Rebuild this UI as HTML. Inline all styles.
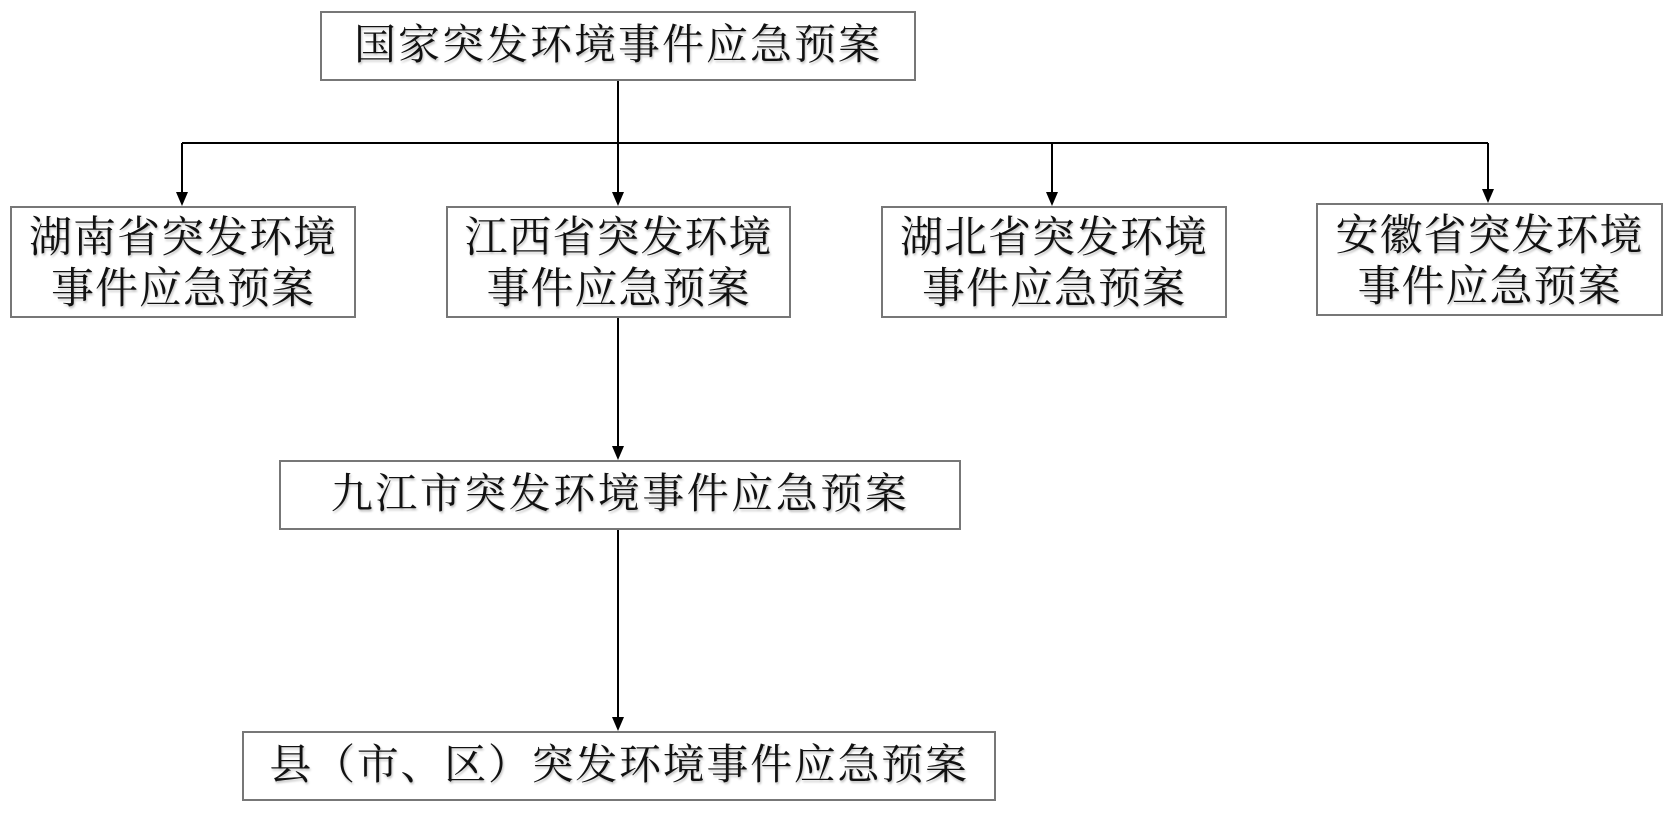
<!DOCTYPE html>
<html><head><meta charset="utf-8"><style>
body{margin:0;width:1675px;height:817px;background:#fff;position:relative;overflow:hidden;font-family:"Liberation Serif","Noto Serif CJK SC",serif;color:#111}
.b{position:absolute;border:2px solid #777;box-sizing:border-box;display:flex;align-items:center;justify-content:center;text-align:center;font-size:42px;line-height:48px;white-space:nowrap;text-shadow:1px 2px 2px rgba(0,0,0,.25)}
svg{position:absolute;left:0;top:0}
</style></head><body>
<svg width="1675" height="817">
<g stroke="#000" stroke-width="2" fill="none">
<line x1="618" y1="80" x2="618" y2="143"/>
<line x1="182" y1="143" x2="1488" y2="143"/>
</g>
<g fill="#000">
<rect x="181" y="143" width="2" height="50"/><path d="M176,192 L188,192 L182,206Z"/>
<rect x="617" y="143" width="2" height="50"/><path d="M612,192 L624,192 L618,206Z"/>
<rect x="1051" y="143" width="2" height="50"/><path d="M1046,192 L1058,192 L1052,206Z"/>
<rect x="1487" y="143" width="2" height="47"/><path d="M1482,189 L1494,189 L1488,203Z"/>
<rect x="617" y="317" width="2" height="130"/><path d="M612,446 L624,446 L618,460Z"/>
<rect x="617" y="529" width="2" height="188"/><path d="M612,717 L624,717 L618,731Z"/>
</g>
</svg>
<div class="b" style="left:320px;top:11px;width:596px;height:70px;letter-spacing:2px">国家突发环境事件应急预案</div>
<div class="b" style="left:10px;top:206px;width:346px;height:112px;font-size:43px;letter-spacing:1px;line-height:51px;padding-top:4px">湖南省突发环境<br>事件应急预案</div>
<div class="b" style="left:446px;top:206px;width:345px;height:112px;font-size:43px;letter-spacing:1px;line-height:51px;padding-top:4px">江西省突发环境<br>事件应急预案</div>
<div class="b" style="left:881px;top:206px;width:346px;height:112px;font-size:43px;letter-spacing:1px;line-height:51px;padding-top:4px">湖北省突发环境<br>事件应急预案</div>
<div class="b" style="left:1316px;top:203px;width:347px;height:113px;font-size:43px;letter-spacing:1px;line-height:51px;padding-top:4px">安徽省突发环境<br>事件应急预案</div>
<div class="b" style="left:279px;top:460px;width:682px;height:70px;letter-spacing:2.5px">九江市突发环境事件应急预案</div>
<div class="b" style="left:242px;top:731px;width:754px;height:70px;letter-spacing:1.7px">县（市、区）突发环境事件应急预案</div>
</body></html>
